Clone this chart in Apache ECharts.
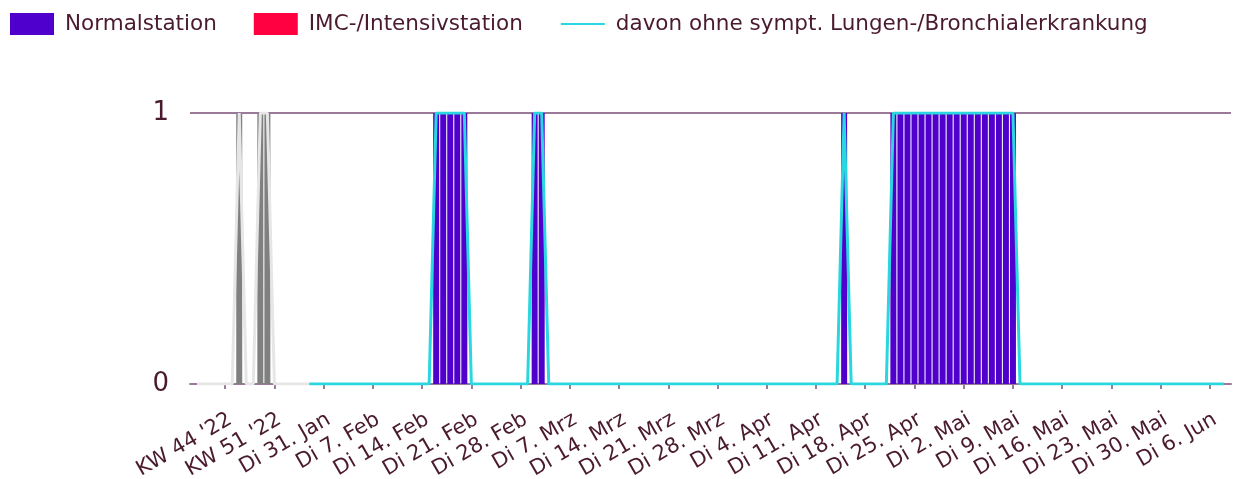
<!DOCTYPE html>
<html>
<head>
<meta charset="utf-8">
<script src="https://cdn.jsdelivr.net/npm/echarts@6/dist/echarts.min.js"></script>
<style>
html,body{margin:0;padding:0;background:#fff;}
#c{width:1237px;height:479px;}
</style>
</head>
<body>
<div id="c"></div>
<script>
// Weekly categories (Kalenderwochen) KW 40 '22 .. KW 3 '23
const weekCats = ["KW 40 '22","KW 41 '22","KW 42 '22","KW 43 '22","KW 44 '22","KW 45 '22","KW 46 '22","KW 47 '22","KW 48 '22","KW 49 '22","KW 50 '22","KW 51 '22","KW 52 '22","KW 1 '23","KW 2 '23","KW 3 '23"];
// Daily categories: 29. Jan 2023 .. 8. Jun 2023
const dayStart = "2023-01-29";
const dayEnd = "2023-06-08";
const weekdayNames = ["So","Mo","Di","Mi","Do","Fr","Sa"];
const monthNames = ["Jan","Feb","Mrz","Apr","Mai","Jun","Jul","Aug","Sep","Okt","Nov","Dez"];

// Weekly values
const weeklyNormal = [0,0,0,0,0,0,1,0,0,1,1,0,0,0,0,0];
const weeklyIMC    = [0,0,0,0,0,0,0,0,0,0,0,0,0,0,0,0];
const weeklyOhne   = [0,0,0,0,0,0,1,0,0,1,1,0,0,0,0,0];

// Daily values
const dailyNormal = [
 0,0,0,
 0,0,0,0,0,0,0,0,0,0,0,0,0,0,0,1,1,1,1,1,0,0,0,0,0,0,0,0,
 0,1,1,0,0,0,0,0,0,0,0,0,0,0,0,0,0,0,0,0,0,0,0,0,0,0,0,0,0,0,0,
 0,0,0,0,0,0,0,0,0,0,0,0,0,0,1,0,0,0,0,0,0,1,1,1,1,1,1,1,1,1,
 1,1,1,1,1,1,1,1,1,0,0,0,0,0,0,0,0,0,0,0,0,0,0,0,0,0,0,0,0,0,0,
 0,0,0,0,0,0,0,0
];
const dailyIMC = [
 0,0,0,
 0,0,0,0,0,0,0,0,0,0,0,0,0,0,0,0,0,0,0,0,0,0,0,0,0,0,0,0,
 0,0,0,0,0,0,0,0,0,0,0,0,0,0,0,0,0,0,0,0,0,0,0,0,0,0,0,0,0,0,0,
 0,0,0,0,0,0,0,0,0,0,0,0,0,0,0,0,0,0,0,0,0,0,0,0,0,0,0,0,0,0,
 0,0,0,0,0,0,0,0,0,0,0,0,0,0,0,0,0,0,0,0,0,0,0,0,0,0,0,0,0,0,0,
 0,0,0,0,0,0,0,0
];
const dailyOhne = [
 0,0,0,
 0,0,0,0,0,0,0,0,0,0,0,0,0,0,0,1,1,1,1,1,0,0,0,0,0,0,0,0,
 0,1,1,0,0,0,0,0,0,0,0,0,0,0,0,0,0,0,0,0,0,0,0,0,0,0,0,0,0,0,0,
 0,0,0,0,0,0,0,0,0,0,0,0,0,0,1,0,0,0,0,0,0,1,1,1,1,1,1,1,1,1,
 1,1,1,1,1,1,1,1,1,0,0,0,0,0,0,0,0,0,0,0,0,0,0,0,0,0,0,0,0,0,0,
 0,0,0,0,0,0,0,0
];

// Build daily category strings
const dayCats = [];
{
  let d = new Date(dayStart + "T00:00:00Z");
  const e = new Date(dayEnd + "T00:00:00Z");
  while (d <= e) {
    dayCats.push(weekdayNames[d.getUTCDay()] + " " + d.getUTCDate() + ". " + monthNames[d.getUTCMonth()]);
    d = new Date(d.getTime() + 86400000);
  }
}

// axis with one padding slot on each end
const cats = [""].concat(weekCats, dayCats, [""]);
const firstLabel = 5; // KW 44 '22
const isLabeled = (i) => i >= firstLabel && (i - firstLabel) % 7 === 0 && cats[i] !== "";

const GREY_BAR = "#808080";
const GREY_LINE = "#e6e6e6";
const C_NORMAL = "#5000cc";
const C_IMC = "#ff0040";
const C_OHNE = "#2ad6e0";
const C_TEXT = "#4a1a2e";
const C_AXIS = "#9a7a98";
const FONT = "DejaVu Sans";

const barData = (weekly, daily) =>
  [null].concat(weekly.map(v => ({ value: v, itemStyle: { color: GREY_BAR } })), daily, [null]);

const greyLine = [null].concat(weeklyOhne, [dailyOhne[0]], dailyOhne.slice(1).map(() => null), [null]);
const cyanLine = [null].concat(weeklyOhne.map(() => null), dailyOhne, [null]);

const chart = echarts.init(document.getElementById('c'));
chart.setOption({
  animation: false,
  textStyle: { fontFamily: FONT },
  legend: {
    left: 5, top: 8,
    itemWidth: 44, itemHeight: 22, itemGap: 37,
    textStyle: { fontSize: 21.5, color: C_TEXT, fontFamily: FONT, padding: [0, 0, 0, 6] },
    data: [
      { name: "Normalstation", icon: "rect" },
      { name: "IMC-/Intensivstation", icon: "rect" },
      { name: "davon ohne sympt. Lungen-/Bronchialerkrankung", itemStyle: { opacity: 0 } }
    ]
  },
  grid: { left: 190, right: 6, top: 113, height: 271, outerBoundsMode: "none", containLabel: false },
  xAxis: {
    type: "category",
    data: cats,
    boundaryGap: false,
    axisLine: { lineStyle: { color: C_AXIS, width: 2 } },
    axisTick: { interval: (i) => isLabeled(i), length: 5, lineStyle: { color: C_AXIS, width: 2 } },
    axisLabel: {
      interval: (i) => isLabeled(i),
      rotate: 30, fontSize: 21, color: C_TEXT, margin: 25, fontFamily: FONT,
      verticalAlign: "top"
    },
    splitLine: { show: false }
  },
  yAxis: {
    type: "value", min: 0, max: 1, interval: 1,
    axisLine: { show: false },
    axisTick: { show: false },
    axisLabel: { fontSize: 26, color: C_TEXT, margin: 21, fontFamily: FONT },
    splitLine: { lineStyle: { color: C_AXIS, width: 2 } }
  },
  series: [
    { name: "Normalstation", type: "bar", stack: "s", barWidth: 6, color: C_NORMAL,
      data: barData(weeklyNormal, dailyNormal) },
    { name: "IMC-/Intensivstation", type: "bar", stack: "s", barWidth: 6, color: C_IMC,
      data: barData(weeklyIMC, dailyIMC) },
    { name: "weekly", type: "line", symbol: "none", data: greyLine,
      lineStyle: { color: GREY_LINE, width: 3 }, itemStyle: { color: GREY_LINE } },
    { name: "davon ohne sympt. Lungen-/Bronchialerkrankung", type: "line", symbol: "none", data: cyanLine,
      color: C_OHNE, lineStyle: { color: C_OHNE, width: 3 }, itemStyle: { color: C_OHNE } }
  ]
});
</script>
</body>
</html>
